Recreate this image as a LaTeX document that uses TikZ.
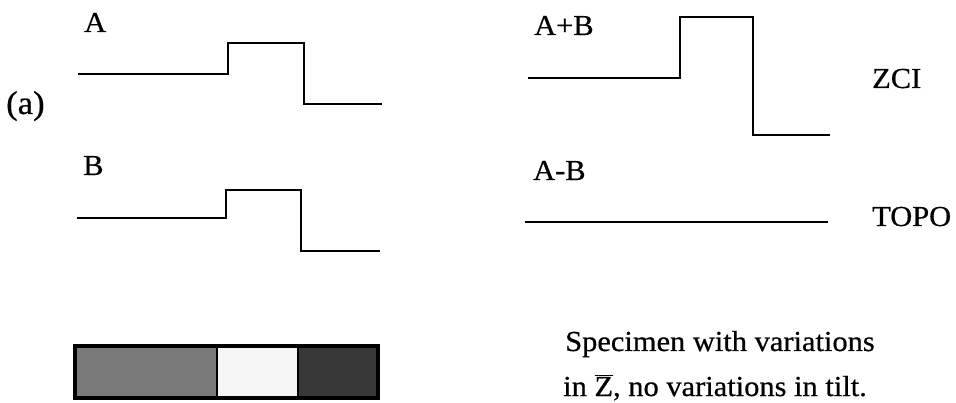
\documentclass[tikz,border=0pt]{standalone}
\usepackage{fontspec}
\setmainfont{Liberation Serif}[FakeStretch=1.05,FakeBold=0.6]
\begin{document}
\begin{tikzpicture}[x=1pt,y=-1pt,
  wave/.style={line width=2.8pt,line join=miter},
  lbl/.style={anchor=base west,inner sep=0pt,font=\fontsize{29}{34}\selectfont},
  seg/.style={draw=black,line width=3.5pt}]
\useasboundingbox (0,0) rectangle (956,403);
% labels
\node[lbl] (tA) at (84,32) {A};
\node[lbl] (tB) at (83,175) {B};
\node[lbl] (tAB) at (534,35) {A+B};
\node[lbl] (tAmB) at (533,180) {A-B};
\node[lbl] (tZCI) at (872,88) {ZCI};
\node[lbl] (tTOPO) at (872,226) {TOPO};
\node[lbl,font=\fontsize{33}{38}\selectfont] (ta) at (6,114) {(a)};
% waveforms
\draw[wave] (78,74) -- (228,74) -- (228,43) -- (304,43) -- (304,104) -- (382,104);
\draw[wave] (77,218) -- (226,218) -- (226,190) -- (301,190) -- (301,251) -- (380,251);
\draw[wave] (528,78) -- (680,78) -- (680,17) -- (753,17) -- (753,135) -- (830,135);
\draw[wave] (525,222) -- (828,222);
% bar
\fill[black!52] (75,346) rectangle (217,398);
\fill[black!4] (217,346) rectangle (298,398);
\fill[black!78] (298,346) rectangle (378,398);
\draw[seg] (75,346) rectangle (378,398);
\draw[line width=2.5pt] (217,346) -- (217,398);
\draw[line width=2.5pt] (298,346) -- (298,398);
% caption
\node[lbl] (c1) at (565,351) {Specimen with variations};
\node[lbl] (c2) at (563,396) {in $\overline{\mbox{Z}}$, no variations in tilt.};
\end{tikzpicture}
\end{document}
